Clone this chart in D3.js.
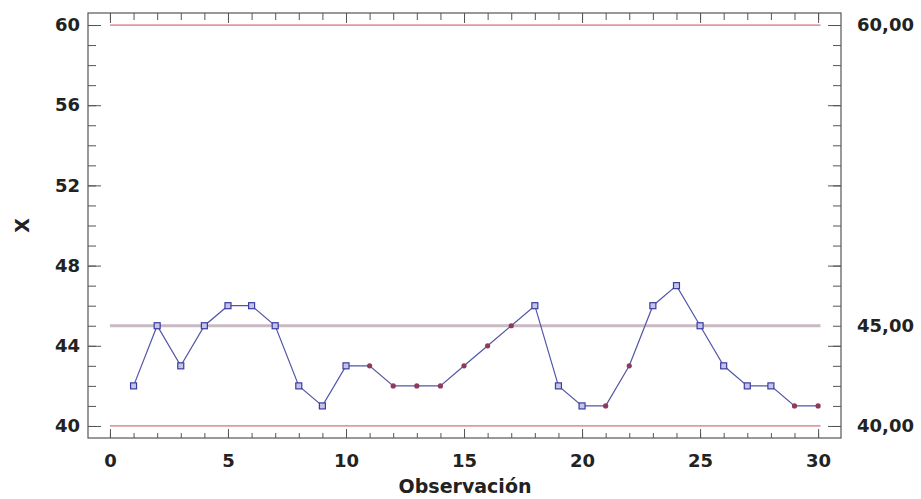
<!DOCTYPE html>
<html>
<head>
<meta charset="utf-8">
<script src="https://cdn.jsdelivr.net/npm/d3@7"></script>
<style>
  body { margin: 0; background: #fff; }
  svg text { font-family: "DejaVu Sans", Arial, sans-serif; font-weight: bold; fill: #222; }
</style>
</head>
<body>
<svg id="chart" width="921" height="499"></svg>
<script>
const obs = d3.range(1, 31);
const values = [42, 45, 43, 45, 46, 46, 45, 42, 41, 43,
                43, 42, 42, 42, 43, 44, 45, 46, 42, 41,
                41, 43, 46, 47, 45, 43, 42, 42, 41, 41];
// "s" = blue square marker, "d" = small red dot
const markerType = ["s","s","s","s","s","s","s","s","s","s",
                    "d","d","d","d","d","d","d","s","s","s",
                    "d","d","s","s","s","s","s","s","d","d"];
const limits = [
  { v: 60, label: "60,00", kind: "limit" },
  { v: 45, label: "45,00", kind: "center" },
  { v: 40, label: "40,00", kind: "limit" }
];
const xTicks = [0, 5, 10, 15, 20, 25, 30];
const yTicks = [40, 44, 48, 52, 56, 60];

const svg = d3.select("#chart");
const m = { left: 88, right: 841, top: 13, bottom: 438 };

const x = d3.scaleLinear().domain([-0.93, 30.97]).range([m.left, m.right]);
const y = d3.scaleLinear().domain([39.4, 60.6]).range([m.bottom, m.top]);

const axisColor = "#555";

// minor ticks
const xMinor = d3.range(0, 31);
const yMinor = d3.range(40, 61);

function styleAxis(g) {
  g.select(".domain").remove();
  g.selectAll("line").attr("stroke", axisColor);
  g.selectAll("text").attr("font-size", 18).attr("fill", "#222");
}

// bottom axis: ticks pointing up
svg.append("g").attr("transform", `translate(0,${m.bottom})`)
  .call(d3.axisBottom(x).tickValues(xMinor).tickSize(-5).tickFormat(""))
  .call(styleAxis);
svg.append("g").attr("transform", `translate(0,${m.bottom})`)
  .call(d3.axisBottom(x).tickValues(xTicks).tickSize(-9).tickPadding(16).tickFormat(d3.format("d")))
  .call(styleAxis);

// top axis: ticks pointing down
svg.append("g").attr("transform", `translate(0,${m.top})`)
  .call(d3.axisTop(x).tickValues(xMinor).tickSize(-7).tickFormat(""))
  .call(styleAxis);
svg.append("g").attr("transform", `translate(0,${m.top})`)
  .call(d3.axisTop(x).tickValues(xTicks).tickSize(-10).tickFormat(""))
  .call(styleAxis);

// left axis: ticks pointing right
svg.append("g").attr("transform", `translate(${m.left},0)`)
  .call(d3.axisLeft(y).tickValues(yMinor).tickSize(-8).tickFormat(""))
  .call(styleAxis);
svg.append("g").attr("transform", `translate(${m.left},0)`)
  .call(d3.axisLeft(y).tickValues(yTicks).tickSize(-13).tickPadding(8).tickFormat(d3.format("d")))
  .call(styleAxis);

// right axis: ticks pointing left, labels are the control limits
svg.append("g").attr("transform", `translate(${m.right},0)`)
  .call(d3.axisRight(y).tickValues(yMinor).tickSize(-8).tickFormat(""))
  .call(styleAxis);
svg.append("g").attr("transform", `translate(${m.right},0)`)
  .call(d3.axisRight(y).tickValues(yTicks).tickSize(-13).tickFormat(""))
  .call(styleAxis);
svg.append("g").attr("transform", `translate(${m.right},0)`)
  .call(d3.axisRight(y).tickValues(limits.map(d => d.v)).tickSize(0).tickPadding(16)
    .tickFormat(v => limits.find(l => l.v === v).label))
  .call(styleAxis);

// frame
svg.append("rect")
  .attr("x", m.left).attr("y", m.top)
  .attr("width", m.right - m.left).attr("height", m.bottom - m.top)
  .attr("fill", "none").attr("stroke", axisColor).attr("stroke-width", 1.2);

// control lines
svg.append("g").selectAll("line")
  .data(limits)
  .join("line")
  .attr("x1", x(0)).attr("x2", x(30.1))
  .attr("y1", d => y(d.v)).attr("y2", d => y(d.v))
  .attr("stroke", d => d.kind === "center" ? "#c9b9c3" : "#e39a9d")
  .attr("stroke-width", d => d.kind === "center" ? 3 : 1.8);

// series line
const pts = obs.map((o, i) => ({ o, v: values[i], t: markerType[i] }));
svg.append("path")
  .datum(pts)
  .attr("fill", "none")
  .attr("stroke", "#5356a6")
  .attr("stroke-width", 1.2)
  .attr("d", d3.line().x(d => x(d.o)).y(d => y(d.v)));

// markers
const s = 6;
svg.append("g").selectAll("rect")
  .data(pts.filter(d => d.t === "s"))
  .join("rect")
  .attr("x", d => x(d.o) - s / 2).attr("y", d => y(d.v) - s / 2)
  .attr("width", s).attr("height", s)
  .attr("fill", "#c4c4ea").attr("stroke", "#3b3ca0").attr("stroke-width", 1.2);

svg.append("g").selectAll("circle")
  .data(pts.filter(d => d.t === "d"))
  .join("circle")
  .attr("cx", d => x(d.o)).attr("cy", d => y(d.v))
  .attr("r", 2.6)
  .attr("fill", "#8e3a5c");

// axis titles
svg.append("text")
  .attr("x", (x(0) + x(30)) / 2 + 1).attr("y", 493)
  .attr("text-anchor", "middle").attr("font-size", 19)
  .text("Observación");

svg.append("text")
  .attr("transform", `translate(29,${(y(40) + y(60)) / 2}) rotate(-90)`)
  .attr("text-anchor", "middle").attr("font-size", 19)
  .text("X");
</script>
</body>
</html>
